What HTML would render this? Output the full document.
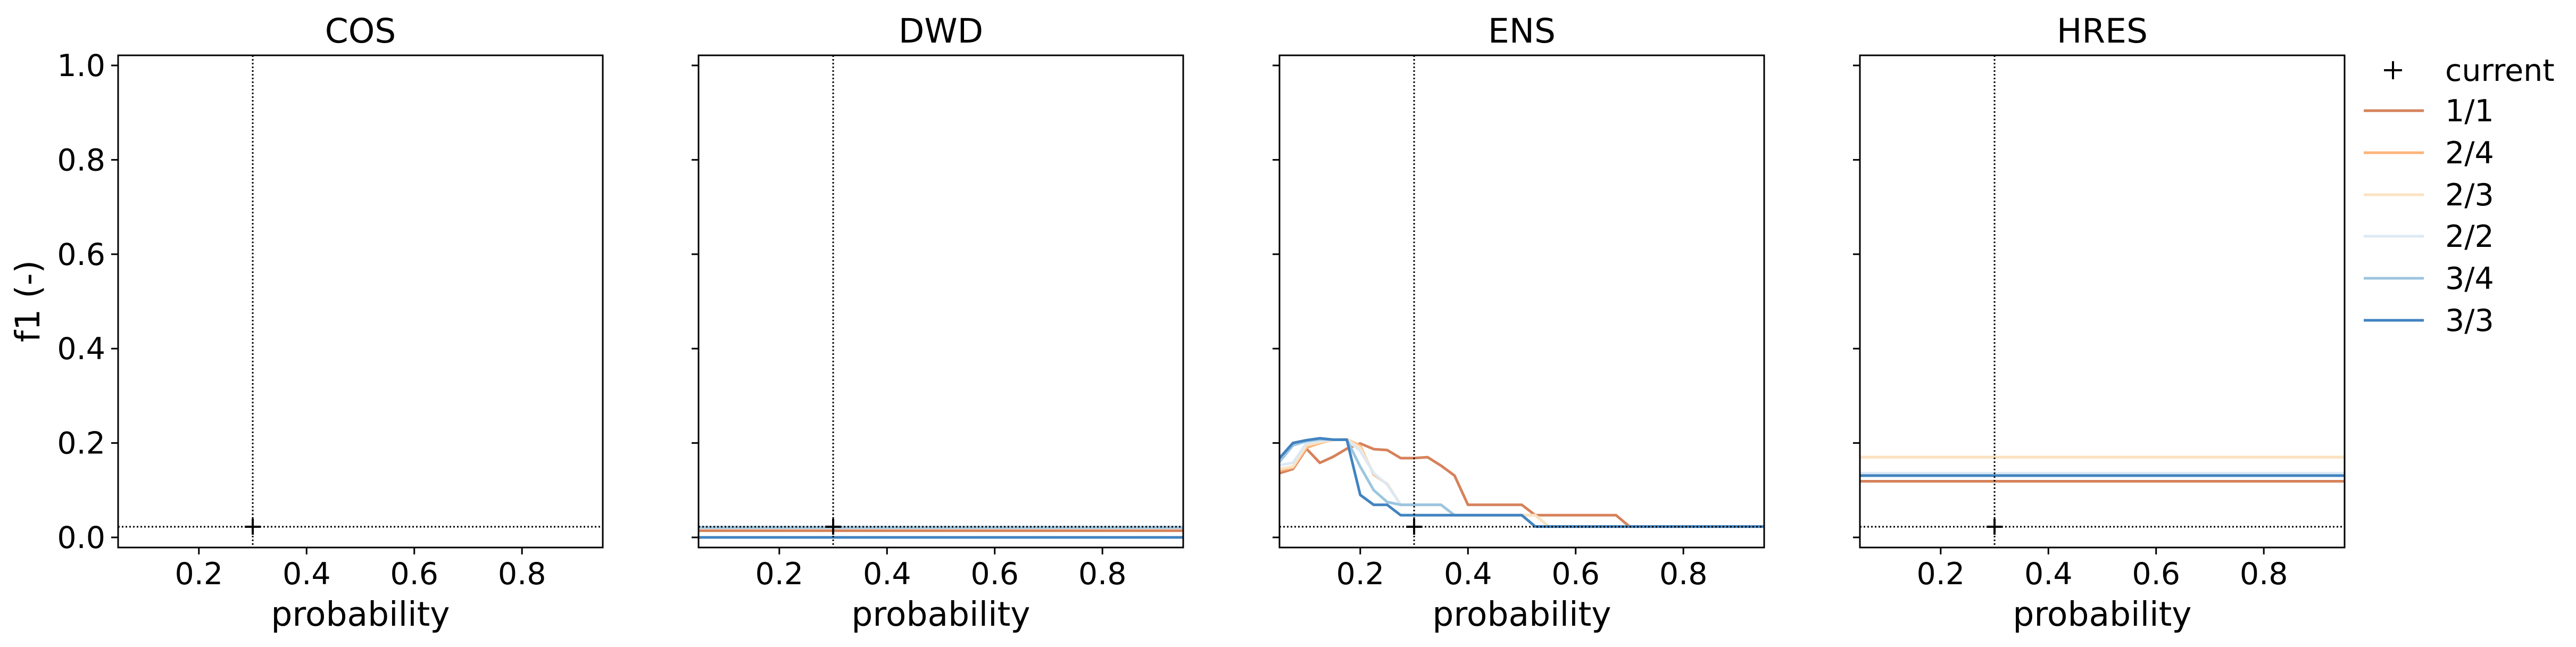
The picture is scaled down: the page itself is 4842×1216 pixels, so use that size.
<!DOCTYPE html>
<html><head><meta charset="utf-8"><style>
html,body{margin:0;padding:0;background:#fff;}
svg{display:block;font-family:"DejaVu Sans","Liberation Sans",sans-serif;}
</style></head><body>
<svg id="chart" width="4842" height="1216" viewBox="0 0 4842 1216" xmlns="http://www.w3.org/2000/svg"></svg>
<script>
const panels = ["COS","DWD","ENS","HRES"];
const seriesNames = ["1/1","2/4","2/3","2/2","3/4","3/3"];
const seriesColors = ["#d6825b","#fdb57a","#fbe2c2","#dce9f4","#9cc5df","#4183c0"];
const xTicks = [0.2,0.4,0.6,0.8];
const yTicks = [0.0,0.2,0.4,0.6,0.8,1.0];
const yTickLabels = ["0.0","0.2","0.4","0.6","0.8","1.0"];
const currentX = 0.3;
const currentY = 0.0225;
const probs = [0.05,0.075,0.1,0.125,0.15,0.175,0.2,0.225,0.25,0.275,0.3,0.325,0.35,0.375,0.4,0.425,0.45,0.475,0.5,0.525,0.55,0.575,0.6,0.625,0.65,0.675,0.7,0.725,0.75,0.775,0.8,0.825,0.85,0.875,0.9,0.925,0.95];
const ens11 = [0.136,0.145,0.188,0.158,0.171,0.188,0.199,0.187,0.185,0.168,0.168,0.170,0.152,0.131,0.069,0.069,0.069,0.069,0.069,0.047,0.047,0.047,0.047,0.047,0.047,0.047,0.023,0.023,0.023,0.023,0.023,0.023,0.023,0.023,0.023,0.023,0.023];
const ens24 = [0.141,0.148,0.190,0.200,0.207,0.208,0.194,0.133,0.113,0.069,0.069,0.069,0.069,0.047,0.047,0.047,0.047,0.047,0.047,0.047,0.023,0.023,0.023,0.023,0.023,0.023,0.023,0.023,0.023,0.023,0.023,0.023,0.023,0.023,0.023,0.023,0.023];
const ens23 = [0.145,0.150,0.195,0.202,0.207,0.208,0.190,0.136,0.112,0.069,0.069,0.069,0.069,0.047,0.047,0.047,0.047,0.047,0.047,0.047,0.023,0.023,0.023,0.023,0.023,0.023,0.023,0.023,0.023,0.023,0.023,0.023,0.023,0.023,0.023,0.023,0.023];
const ens22 = [0.153,0.158,0.200,0.205,0.207,0.207,0.183,0.136,0.112,0.069,0.069,0.069,0.069,0.047,0.047,0.047,0.047,0.047,0.047,0.023,0.023,0.023,0.023,0.023,0.023,0.023,0.023,0.023,0.023,0.023,0.023,0.023,0.023,0.023,0.023,0.023,0.023];
const ens34 = [0.160,0.195,0.204,0.208,0.207,0.207,0.150,0.100,0.075,0.069,0.069,0.069,0.069,0.047,0.047,0.047,0.047,0.047,0.047,0.023,0.023,0.023,0.023,0.023,0.023,0.023,0.023,0.023,0.023,0.023,0.023,0.023,0.023,0.023,0.023,0.023,0.023];
const ens33 = [0.168,0.200,0.206,0.210,0.207,0.207,0.090,0.069,0.069,0.047,0.047,0.047,0.047,0.047,0.047,0.047,0.047,0.047,0.047,0.023,0.023,0.023,0.023,0.023,0.023,0.023,0.023,0.023,0.023,0.023,0.023,0.023,0.023,0.023,0.023,0.023,0.023];
const dwdValues = [0.0143,0.021,0.0225,0.0225,0.021,0.0];
const hresValues = [0.119,0.170,0.170,0.136,0.131,0.131];

const NS = "http://www.w3.org/2000/svg";
const svg = document.getElementById("chart");
function mk(tag, attrs, parent){ const e=document.createElementNS(NS,tag); for(const k in attrs) e.setAttribute(k,attrs[k]); (parent||svg).appendChild(e); return e; }

const axLefts = [222,1313,2405,3496];
const axW = 911, axTop = 104, axBottom = 1029;
const xMin = 0.05, xMax = 0.95, yMin = -0.0214, yMax = 1.0214;

panels.forEach((name, pi) => {
  const L = axLefts[pi];
  const xs = v => L + (v - xMin) / (xMax - xMin) * axW;
  const ys = v => axBottom - (v - yMin) / (yMax - yMin) * (axBottom - axTop);
  const g = mk("g", {});
  
  

  seriesNames.forEach((s, si) => {
    let pts = null;
    if (name === "ENS") {
      const arr = [ens11, ens24, ens23, ens22, ens34, ens33][si];
      pts = probs.map((p,i)=> xs(p).toFixed(1)+","+ys(arr[i]).toFixed(1)).join(" ");
    } else if (name === "DWD" || name === "HRES") {
      const v = (name === "DWD" ? dwdValues : hresValues)[si];
      pts = xs(xMin)+","+ys(v)+" "+xs(xMax)+","+ys(v);
    }
    if (pts) {
      const pl = mk("polyline", {points: pts, fill:"none", stroke: seriesColors[si], "stroke-width":5, "stroke-linejoin":"round"}, g);
      
      
    }
  });

  const vl = mk("line", {x1: xs(currentX), x2: xs(currentX), y1: axTop, y2: axBottom, stroke:"#000", "stroke-width":3, "stroke-dasharray":"3 4"}, g);
  
  
  const hl = mk("line", {x1: L, x2: L+axW, y1: ys(currentY), y2: ys(currentY), stroke:"#000", "stroke-width":3, "stroke-dasharray":"3 4"}, g);
  
  
  const cx = xs(currentX), cy = ys(currentY);
  const mkr = mk("path", {d:`M${cx-15},${cy}H${cx+15}M${cx},${cy-15}V${cy+15}`, stroke:"#000", "stroke-width":4}, g);
  
  

  const fr = mk("rect", {x:L, y:axTop, width:axW, height:axBottom-axTop, fill:"none", stroke:"#000", "stroke-width":3}, g);
  
  

  xTicks.forEach(t => {
    const x = xs(t);
    const tk = mk("line", {x1:x, x2:x, y1:axBottom, y2:axBottom+13, stroke:"#000", "stroke-width":3}, g);
    
    
    const tl = mk("text", {x:x, y:1098, "font-size":57, "text-anchor":"middle", fill:"#000"}, g);
    tl.textContent = t.toFixed(1);
    
    
  });
  yTicks.forEach((t, ti) => {
    const y = ys(t);
    const tk = mk("line", {x1:L-13, x2:L, y1:y, y2:y, stroke:"#000", "stroke-width":3}, g);
    
    
    if (pi === 0) {
      const tl = mk("text", {x:L-24, y:y+20, "font-size":57, "text-anchor":"end", fill:"#000"}, g);
      tl.textContent = yTickLabels[ti];
      
      
    }
  });
  const tt = mk("text", {x:L+axW/2, y:80, "font-size":63, "text-anchor":"middle", fill:"#000"}, g);
  tt.textContent = name;
  
  
  const xl = mk("text", {x:L+axW/2, y:1176, "font-size":63, "text-anchor":"middle", fill:"#000"}, g);
  xl.textContent = "probability";
  
  
});

const yl = mk("text", {x:0, y:0, "font-size":63, "text-anchor":"middle", fill:"#000", transform:"translate(74,566) rotate(-90)"});
yl.textContent = "f1 (-)";



const lg = mk("g", {});


const rowY = [132,208,287,366,444,523,602];
const lp = mk("path", {d:`M${4498-17},${rowY[0]}H${4498+17}M4498,${rowY[0]-17}V${rowY[0]+17}`, stroke:"#000", "stroke-width":4}, lg);


const lt0 = mk("text", {x:4596, y:rowY[0]+20, "font-size":57, fill:"#000"}, lg);
lt0.textContent = "current";


seriesNames.forEach((s, si) => {
  const y = rowY[si+1];
  const ln = mk("line", {x1:4443, x2:4556, y1:y, y2:y, stroke:seriesColors[si], "stroke-width":5}, lg);
  
  
  const t = mk("text", {x:4596, y:y+20, "font-size":57, fill:"#000"}, lg);
  t.textContent = s;
  
  
});
</script>
</body></html>
